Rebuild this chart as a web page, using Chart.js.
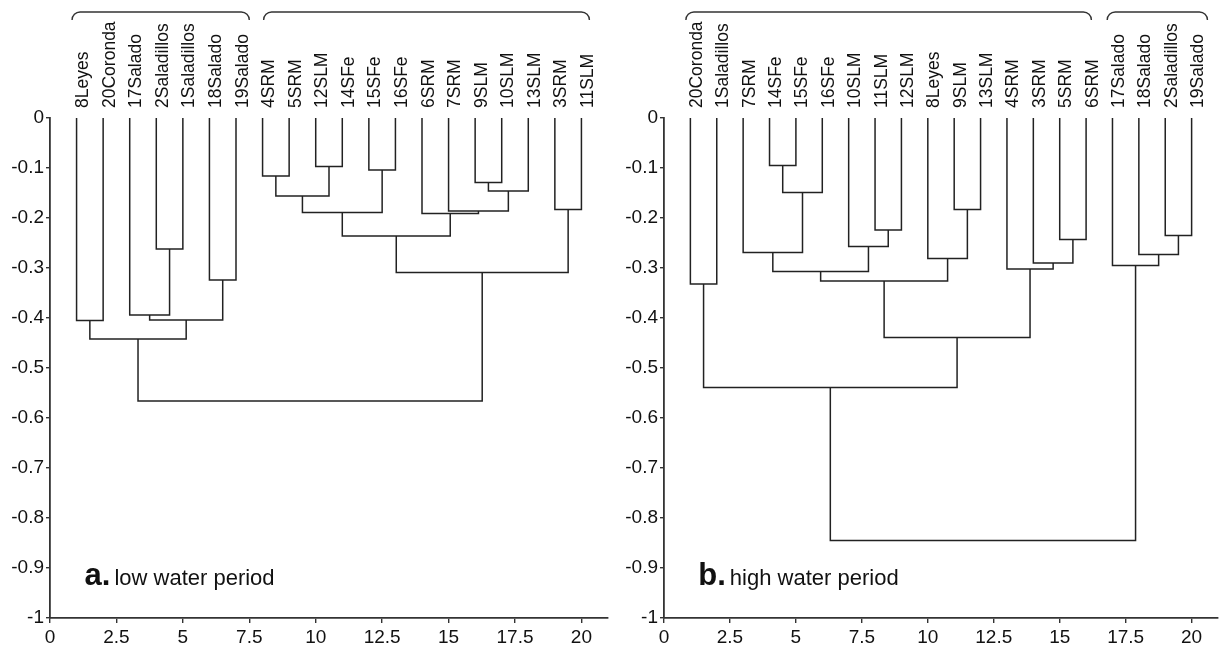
<!DOCTYPE html>
<html>
<head>
<meta charset="utf-8">
<script src="https://cdn.jsdelivr.net/npm/chart.js@4.4.0/dist/chart.umd.min.js"></script>
<style>
  html, body { margin: 0; padding: 0; background: #fff; }
  #wrap { position: relative; width: 1224px; height: 650px; }
  .panel { position: absolute; top: 0; width: 612px; height: 650px; }
</style>
</head>
<body>
<div id="wrap">
  <div class="panel" style="left:0"><canvas id="lowChart" width="612" height="650"></canvas></div>
  <div class="panel" style="left:612px"><canvas id="highChart" width="612" height="650"></canvas></div>
</div>
<script>
/* ------------------------------
 data
 leaves sit at x = 1..20, merges are [childA, childB, height]
 (children 1..20 are leaves, 21.. are earlier merges, in order)
---------------------------------*/
var xTicks = [0, 2.5, 5, 7.5, 10, 12.5, 15, 17.5, 20];
var yTicks = [0, -0.1, -0.2, -0.3, -0.4, -0.5, -0.6, -0.7, -0.8, -0.9, -1];

var lowLeaves = ["8Leyes", "20Coronda", "17Salado", "2Saladillos", "1Saladillos", "18Salado", "19Salado",
  "4SRM", "5SRM", "12SLM", "14SFe", "15SFe", "16SFe", "6SRM", "7SRM", "9SLM", "10SLM", "13SLM", "3SRM", "11SLM"];
var lowMerges = [
  [1, 2, -0.405], [4, 5, -0.262], [6, 7, -0.324], [3, 22, -0.394], [24, 23, -0.404], [21, 25, -0.442],
  [8, 9, -0.116], [10, 11, -0.097], [12, 13, -0.104], [27, 28, -0.156], [30, 29, -0.189],
  [16, 17, -0.129], [32, 18, -0.146], [15, 33, -0.186], [14, 34, -0.191], [31, 35, -0.236],
  [19, 20, -0.183], [36, 37, -0.309], [26, 38, -0.566]
];
var lowGroups = [[0.83, 7.5], [8.04, 20.3]];
var lowTitle = ["a.", "low water period"];

var highLeaves = ["20Coronda", "1Saladillos", "7SRM", "14SFe", "15SFe", "16SFe", "10SLM", "11SLM", "12SLM", "8Leyes",
  "9SLM", "13SLM", "4SRM", "3SRM", "5SRM", "6SRM", "17Salado", "18Salado", "2Saladillos", "19Salado"];
var highMerges = [
  [4, 5, -0.095], [21, 6, -0.149], [3, 22, -0.269], [8, 9, -0.224], [7, 24, -0.257], [23, 25, -0.307],
  [11, 12, -0.183], [10, 27, -0.281], [26, 28, -0.326], [15, 16, -0.243], [14, 30, -0.290],
  [13, 31, -0.302], [29, 32, -0.439], [1, 2, -0.332], [34, 33, -0.539],
  [19, 20, -0.235], [18, 36, -0.273], [17, 37, -0.295], [35, 38, -0.845]
];
var highGroups = [[0.83, 16.2], [16.8, 20.6]];
var highTitle = ["b.", "high water period"];

var titleAt = [1.3, -0.934];

var FONT = '"Liberation Sans", Arial, Helvetica, sans-serif';
Chart.defaults.font.family = FONT;
Chart.defaults.color = "#111";

/* U-shaped link for every merge */
function buildLinks(n, merges) {
  var pos = {};
  for (var i = 1; i <= n; i++) pos[i] = { x: i, y: 0 };
  var links = [];
  merges.forEach(function (m, k) {
    var a = pos[m[0]], b = pos[m[1]], h = m[2];
    links.push([{ x: a.x, y: a.y }, { x: a.x, y: h }, { x: b.x, y: h }, { x: b.x, y: b.y }]);
    pos[n + 1 + k] = { x: (a.x + b.x) / 2, y: h };
  });
  return links;
}

/* leaf names, group braces and panel title */
function decorPlugin(leaves, groups, title) {
  return {
    id: "decor",
    afterDraw: function (chart) {
      var ctx = chart.ctx, xs = chart.scales.x, ys = chart.scales.y;
      var top = chart.chartArea.top;
      ctx.save();
      ctx.fillStyle = "#111";
      ctx.font = "17.5px " + FONT;
      ctx.textAlign = "left";
      ctx.textBaseline = "alphabetic";
      leaves.forEach(function (name, i) {
        var px = xs.getPixelForValue(i + 1);
        ctx.save();
        ctx.translate(px + 11.5, top - 10);
        ctx.rotate(-Math.PI / 2);
        ctx.fillText(name, 0, 0);
        ctx.restore();
      });

      ctx.strokeStyle = "#333";
      ctx.lineWidth = 1.4;
      groups.forEach(function (g) {
        var x1 = xs.getPixelForValue(g[0]), x2 = xs.getPixelForValue(g[1]);
        ctx.beginPath();
        ctx.moveTo(x1, 20);
        ctx.arcTo(x1, 12, x1 + 9, 12, 8);
        ctx.lineTo(x2 - 9, 12);
        ctx.arcTo(x2, 12, x2, 20, 8);
        ctx.lineTo(x2, 20);
        ctx.stroke();
      });

      var tx = xs.getPixelForValue(titleAt[0]), ty = ys.getPixelForValue(titleAt[1]);
      ctx.font = "bold 31px " + FONT;
      ctx.fillText(title[0], tx, ty);
      tx += ctx.measureText(title[0]).width + 4;
      ctx.font = "22px " + FONT;
      ctx.fillText(title[1], tx, ty);
      ctx.restore();
    }
  };
}

function makeChart(id, leaves, merges, groups, title, axisW, padRight) {
  var links = buildLinks(leaves.length, merges);
  var axisGrid = { drawOnChartArea: false, drawTicks: true, tickLength: 4, color: "#333", lineWidth: 1.4 };
  return new Chart(document.getElementById(id), {
    type: "scatter",
    data: {
      datasets: links.map(function (pts) {
        return {
          data: pts,
          showLine: true,
          borderColor: "#222",
          borderWidth: 1.5,
          pointRadius: 0,
          pointHoverRadius: 0,
          fill: false,
          clip: false
        };
      })
    },
    options: {
      responsive: false,
      animation: false,
      events: [],
      layout: { padding: { top: 118, right: padRight, left: 0, bottom: 0 } },
      plugins: { legend: { display: false }, tooltip: { enabled: false } },
      scales: {
        x: {
          type: "linear",
          min: 0,
          max: 21,
          afterBuildTicks: function (s) { s.ticks = xTicks.map(function (v) { return { value: v }; }); },
          afterFit: function (s) { s.height = 32; },
          grid: Object.assign({}, axisGrid, { tickLength: 5 }),
          border: { color: "#333", width: 1.8 },
          ticks: { font: { size: 19 }, padding: 3, maxRotation: 0, autoSkip: false,
            callback: function (v) { return String(v); } }
        },
        y: {
          type: "linear",
          min: -1,
          max: 0,
          afterBuildTicks: function (s) { s.ticks = yTicks.map(function (v) { return { value: v }; }); },
          afterFit: function (s) { s.width = axisW; },
          grid: axisGrid,
          border: { color: "#333", width: 1.8 },
          ticks: { font: { size: 19 }, padding: 2, autoSkip: false,
            callback: function (v) { return String(v); } }
        }
      }
    },
    plugins: [decorPlugin(leaves, groups, title)]
  });
}

var lowChart = makeChart("lowChart", lowLeaves, lowMerges, lowGroups, lowTitle, 50, 4);
var highChart = makeChart("highChart", highLeaves, highMerges, highGroups, highTitle, 52, 6);
</script>
</body>
</html>
